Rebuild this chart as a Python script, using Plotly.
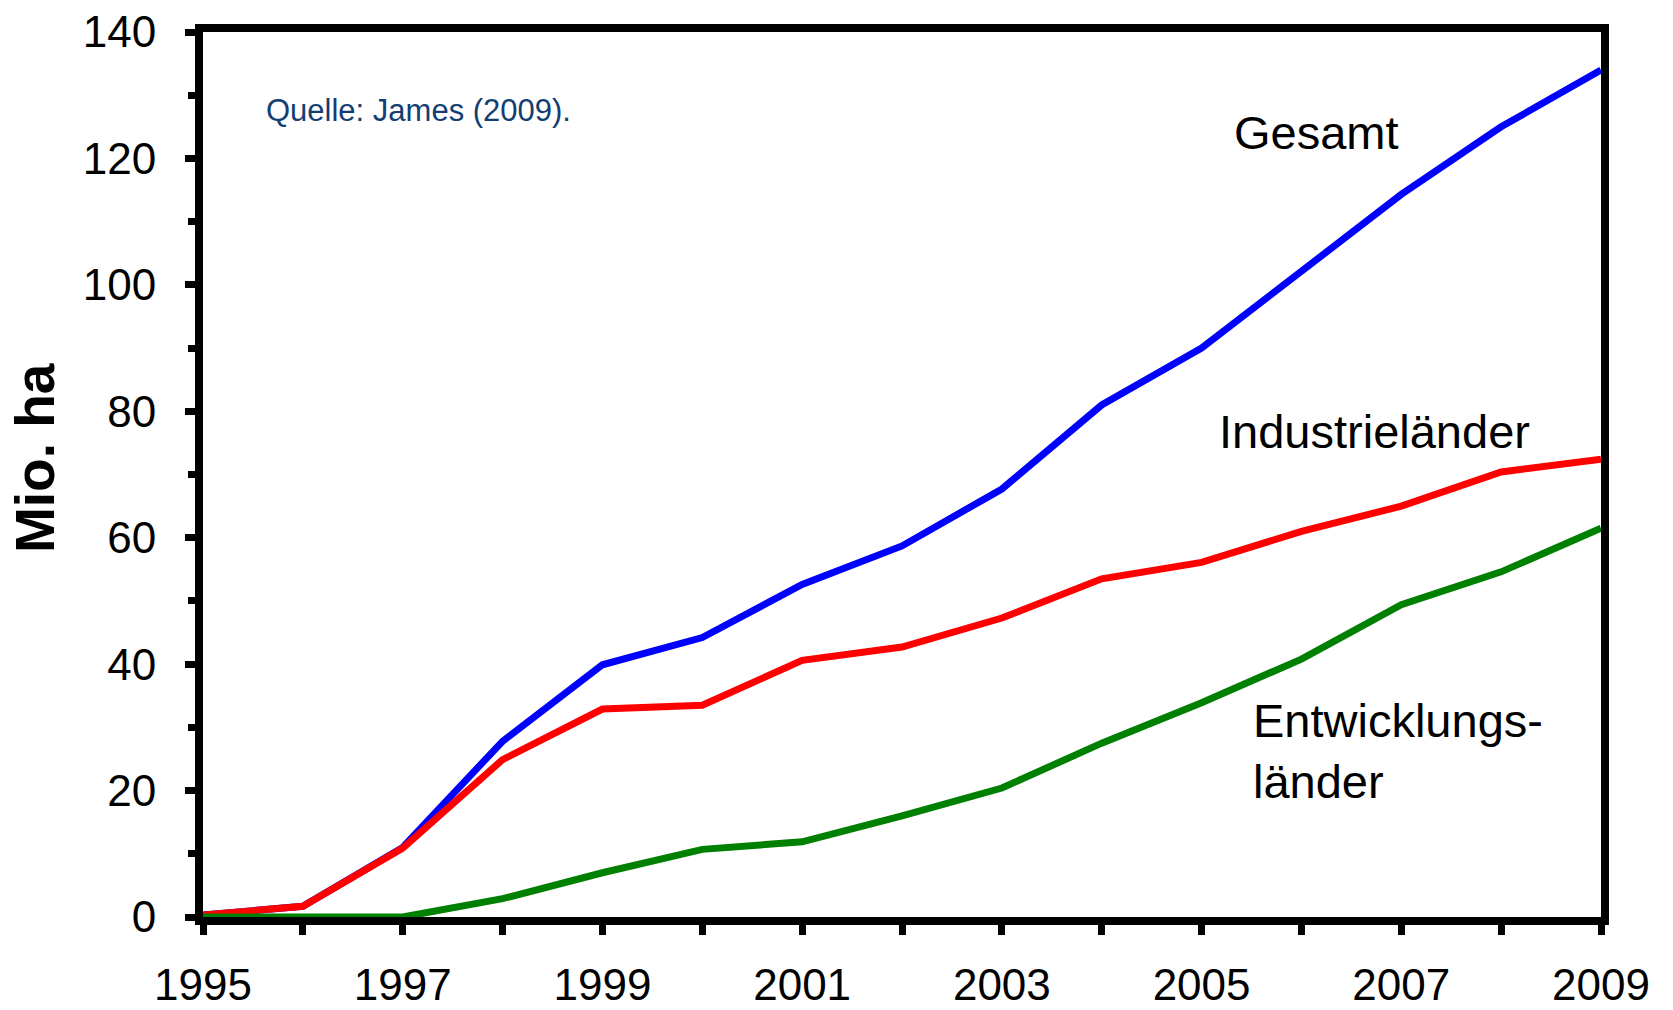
import plotly.graph_objects as go

# Anbauflächen gentechnisch veränderter Pflanzen, Mio. ha
years = list(range(1995, 2010))
year_labels = ["1995", "", "1997", "", "1999", "", "2001", "", "2003", "", "2005", "", "2007", "", "2009"]

gesamt = [0.3, 1.7, 11.0, 27.8, 39.9, 44.2, 52.6, 58.7, 67.7, 81.0, 90.0, 102.0, 114.3, 125.0, 134.0]
industrielaender = [0.3, 1.7, 10.9, 24.9, 32.9, 33.5, 40.6, 42.7, 47.3, 53.5, 56.1, 61.0, 65.0, 70.4, 72.4]
entwicklungslaender = [0.0, 0.0, 0.0, 2.9, 7.0, 10.7, 11.9, 16.0, 20.4, 27.5, 33.9, 40.8, 49.4, 54.6, 61.5]

FONT = "Arial, 'Liberation Sans', sans-serif"

fig = go.Figure()
fig.add_trace(go.Scatter(x=years, y=gesamt, mode="lines", name="Gesamt",
                         line=dict(color="#0000FF", width=7)))
fig.add_trace(go.Scatter(x=years, y=industrielaender, mode="lines", name="Industrieländer",
                         line=dict(color="#FF0000", width=7)))
fig.add_trace(go.Scatter(x=years, y=entwicklungslaender, mode="lines", name="Entwicklungsländer",
                         line=dict(color="#008000", width=7)))

axis_common = dict(
    showline=True, linecolor="black", linewidth=8, mirror=True,
    showgrid=False, zeroline=False, automargin=False,
    ticks="outside", ticklen=10, tickwidth=7, tickcolor="black",
    tickfont=dict(family=FONT, size=44, color="black"),
)

fig.update_xaxes(
    range=[1995, 2009], tickvals=years, ticktext=year_labels,
    ticklabelstandoff=12, **axis_common,
)
fig.update_yaxes(
    range=[0, 140], tickvals=[0, 20, 40, 60, 80, 100, 120, 140],
    minor=dict(dtick=10, ticks="outside", ticklen=7, tickwidth=7, tickcolor="black"),
    ticklabelstandoff=20,
    **axis_common,
)

annotations = [
    dict(text="<b>Mio. ha</b>", xref="paper", yref="paper", x=-0.1202, y=0.5186,
         xanchor="center", yanchor="middle", textangle=-90,
         font=dict(family=FONT, size=55, color="black")),
    dict(text="Quelle: James (2009).", x=1995.61, y=127.6, xanchor="left", yanchor="middle",
         font=dict(family=FONT, size=31, color="#123E72")),
    dict(text="Gesamt", x=2005.30, y=124.1, xanchor="left", yanchor="middle",
         font=dict(family=FONT, size=47, color="black")),
    dict(text="Industrieländer", x=2005.15, y=76.8, xanchor="left", yanchor="middle",
         font=dict(family=FONT, size=47, color="black")),
    dict(text="Entwicklungs-<br>länder", x=2005.49, y=26.3, xanchor="left", yanchor="middle",
         align="left", font=dict(family=FONT, size=47, color="black")),
]
for a in annotations:
    a.setdefault("xref", "x")
    a.setdefault("yref", "y")
    a["showarrow"] = False

fig.update_layout(
    width=1673, height=1010,
    margin=dict(l=203, r=72, t=32, b=93, pad=0),
    paper_bgcolor="white", plot_bgcolor="white",
    showlegend=False,
    annotations=annotations,
)

fig.write_html("out.html")
